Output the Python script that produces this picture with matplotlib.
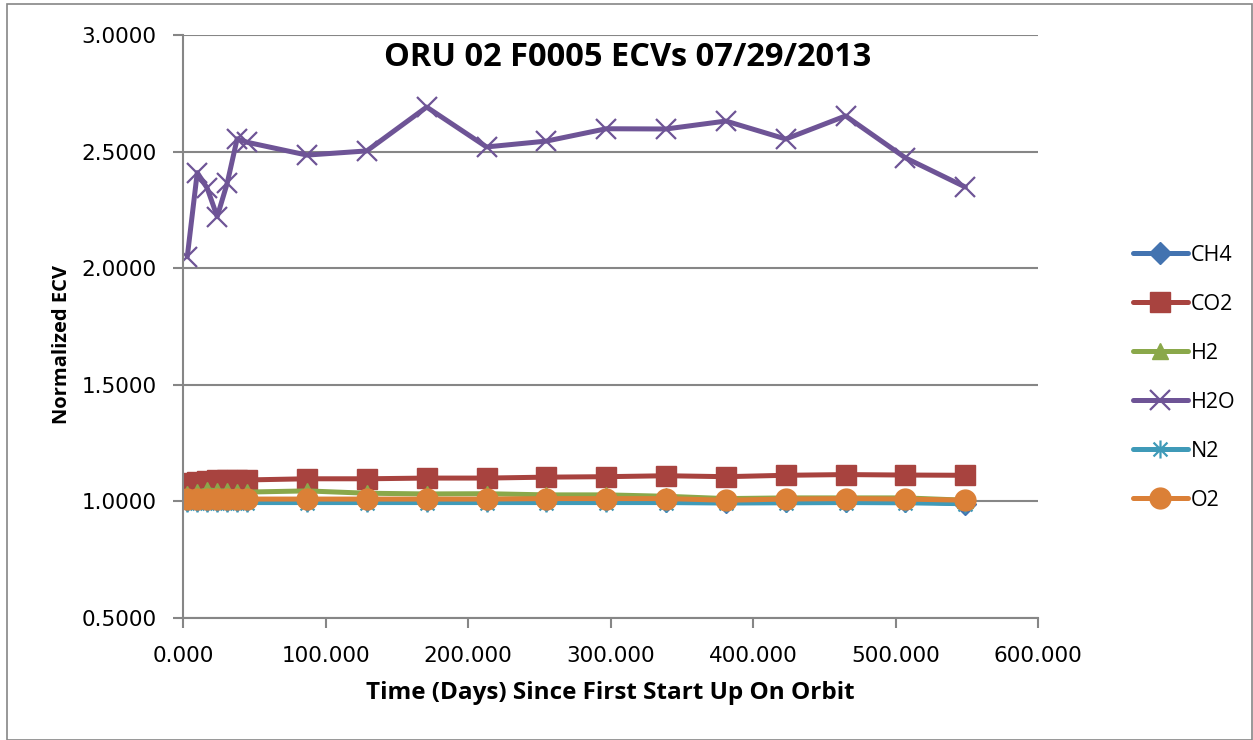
import matplotlib.pyplot as plt
from matplotlib.patches import Rectangle
from matplotlib.path import Path

# Days since first start up
days = [3, 10, 17, 24, 31, 38, 45, 87, 129, 171, 213, 255, 297, 339, 381, 423, 465, 507, 549]

ch4 = [1.005, 1.005, 1.006, 1.006, 1.006, 1.006, 1.006, 1.008, 1.006, 1.005, 1.004, 1.004,
       1.004, 1.003, 0.998, 1.000, 1.000, 1.000, 0.990]
co2 = [1.080, 1.085, 1.088, 1.090, 1.090, 1.092, 1.092, 1.097, 1.097, 1.100, 1.100, 1.104,
       1.106, 1.110, 1.106, 1.112, 1.115, 1.113, 1.112]
h2 = [1.030, 1.040, 1.050, 1.045, 1.045, 1.040, 1.040, 1.045, 1.035, 1.032, 1.033, 1.028,
      1.028, 1.022, 1.012, 1.015, 1.015, 1.015, 1.005]
h2o = [2.049, 2.410, 2.343, 2.221, 2.364, 2.555, 2.540, 2.485, 2.503, 2.691, 2.520, 2.545,
       2.598, 2.597, 2.631, 2.554, 2.653, 2.473, 2.348]
n2 = [0.995, 0.995, 0.995, 0.995, 0.995, 0.995, 0.995, 0.995, 0.995, 0.995, 0.995, 0.995,
      0.995, 0.995, 0.993, 0.994, 0.995, 0.994, 0.990]
o2 = [1.010, 1.010, 1.010, 1.010, 1.010, 1.010, 1.010, 1.010, 1.010, 1.010, 1.010, 1.012,
      1.012, 1.012, 1.005, 1.010, 1.012, 1.010, 1.005]

xticks = [0, 100, 200, 300, 400, 500, 600]
yticks = [0.5, 1.0, 1.5, 2.0, 2.5, 3.0]

# excel style asterisk: an x plus a vertical bar
star = Path([(-1, -1), (1, 1), (-1, 1), (1, -1), (0, -1.3), (0, 1.3)],
            [Path.MOVETO, Path.LINETO, Path.MOVETO, Path.LINETO, Path.MOVETO, Path.LINETO])

series = [
    ("CH4", ch4, "#4373b0", "D", 11),
    ("CO2", co2, "#a8433f", "s", 14.5),
    ("H2", h2, "#8aa84a", "^", 12),
    ("H2O", h2o, "#6e5496", "x", 14),
    ("N2", n2, "#3f9ab8", star, 13),
    ("O2", o2, "#db8037", "o", 15),
]

fig = plt.figure(figsize=(12.53, 7.4), dpi=100)
ax = fig.add_axes([183 / 1253, 1 - 618 / 740, 855 / 1253, 583 / 740])

for name, vals, color, marker, ms in series:
    kw = dict(markeredgecolor=color, markerfacecolor=color)
    if marker is star or marker == "x":
        kw["markeredgewidth"] = 1.6
    ax.plot(days, vals, color=color, lw=3.6, marker=marker, markersize=ms,
            label=name, solid_joinstyle="round", solid_capstyle="round", **kw)

ax.set_xlim(0, 600)
ax.set_ylim(0.5, 3.0)
ax.set_xticks(xticks)
ax.set_xticklabels([f"{v:.3f}" for v in xticks])
ax.set_yticks(yticks)
ax.set_yticklabels([f"{v:.4f}" for v in yticks])
ax.tick_params(axis="both", labelsize=15.5, color="#868686", width=1.5, length=7)
ax.tick_params(axis="y", pad=12)
ax.tick_params(axis="x", pad=13)
ax.grid(axis="y", color="#868686", lw=1.5)
ax.set_axisbelow(True)
for s in ["top", "right"]:
    ax.spines[s].set_visible(False)
for s in ["left", "bottom"]:
    ax.spines[s].set_color("#868686")
    ax.spines[s].set_linewidth(1.5)

ax.text(0.52, 0.962, "ORU 02 F0005 ECVs 07/29/2013", transform=ax.transAxes,
        fontsize=23.5, fontweight="bold", family="Open Sans", ha="center", va="center")
ax.set_xlabel("Time (Days) Since First Start Up On Orbit", fontsize=17.5,
              fontweight="bold", family="Open Sans")
ax.xaxis.label.set_va("center")
ax.xaxis.set_label_coords((610 - 183) / 855, -(693 - 618) / 583)
ax.set_ylabel("Normalized ECV", fontsize=14.5, fontweight="bold", family="Open Sans")
ax.yaxis.label.set_va("center")
ax.yaxis.set_label_coords(-(183 - 62) / 855, (618 - 344) / 583)

ax.legend(loc="center left", bbox_to_anchor=(1.088, 0.412), frameon=False,
          prop={"family": "Open Sans", "size": 15.5}, labelspacing=1.3,
          handlelength=2.55, handletextpad=0.15)

fig.patches.append(Rectangle((7 / 1253, 0.0), 1 - 8 / 1253, 1 - 4 / 740,
                             transform=fig.transFigure, fill=False,
                             edgecolor="#868686", lw=1.2))

fig.savefig("out.png", dpi=100)
